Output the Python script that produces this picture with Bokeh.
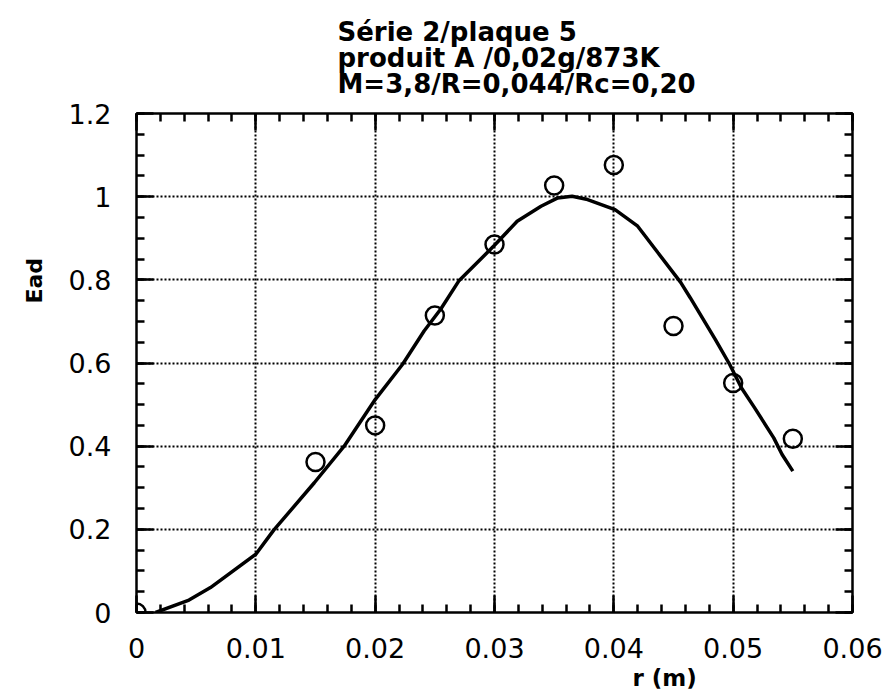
import numpy as np
from bokeh.plotting import figure
from bokeh.models import Range1d, LinearAxis, FixedTicker, Title
from bokeh.embed import file_html
from bokeh.resources import INLINE

# ---- data ----
r_points = [0.0, 0.015, 0.02, 0.025, 0.03, 0.035, 0.04, 0.045, 0.05, 0.055]
e_points = [0.0, 0.362, 0.45, 0.714, 0.885, 1.027, 1.076, 0.689, 0.552, 0.418]

r_curve = [0.0016, 0.0044, 0.0062, 0.0100, 0.0115, 0.0149, 0.0174, 0.0200, 0.0223,
           0.0241, 0.0255, 0.0270, 0.0300, 0.0319, 0.0339, 0.0353, 0.0365, 0.0378,
           0.0401, 0.0420, 0.0437, 0.0456, 0.0464, 0.0485, 0.0497, 0.0507, 0.0518,
           0.0534, 0.0541, 0.0550]
e_curve = [0.000, 0.030, 0.060, 0.140, 0.198, 0.312, 0.400, 0.512, 0.597,
           0.677, 0.730, 0.797, 0.883, 0.941, 0.977, 0.997, 1.001, 0.993,
           0.969, 0.929, 0.865, 0.794, 0.757, 0.657, 0.597, 0.540, 0.492,
           0.420, 0.380, 0.340]

x_ticks = [0.0, 0.01, 0.02, 0.03, 0.04, 0.05, 0.06]
x_tick_labels = ["0", "0.01", "0.02", "0.03", "0.04", "0.05", "0.06"]
y_ticks = [0.0, 0.2, 0.4, 0.6, 0.8, 1.0, 1.2]
y_tick_labels = ["0", "0.2", "0.4", "0.6", "0.8", "1", "1.2"]

title_lines = ["Série 2/plaque 5", "produit A /0,02g/873K", "M=3,8/R=0,044/Rc=0,20"]
x_label = "r (m)"
y_label = "Ead"

# ---- figure ----
W, H = 888, 698
p = figure(width=W, height=H, output_backend="svg", toolbar_location=None,
           x_range=Range1d(0, 0.06), y_range=Range1d(0, 1.2),
           min_border_left=136, min_border_right=36, min_border_top=113,
           min_border_bottom=86, background_fill_color="white",
           border_fill_color="white", outline_line_color="black",
           outline_line_width=2)
p.title.visible = False

x_minor = list(np.round(np.arange(0, 0.0601, 0.002), 4))
y_minor = list(np.round(np.arange(0, 1.2001, 0.05), 3))
xt = FixedTicker(ticks=x_ticks, minor_ticks=x_minor)
yt = FixedTicker(ticks=y_ticks, minor_ticks=y_minor)

def style_axis(ax, ticker, labels=None, show=True):
    ax.ticker = ticker
    ax.axis_line_color = "black"
    ax.axis_line_width = 2
    ax.major_tick_in = 17
    ax.major_tick_out = 0
    ax.minor_tick_in = 8
    ax.minor_tick_out = 0
    ax.major_tick_line_width = 2.5
    ax.minor_tick_line_width = 2.5
    ax.major_tick_line_color = "black"
    ax.minor_tick_line_color = "black"
    if show:
        ax.major_label_overrides = labels
        ax.major_label_text_font = "DejaVu Sans"
        ax.major_label_text_font_size = "27px"
        ax.major_label_text_color = "black"
    else:
        ax.major_label_text_font_size = "0px"
        ax.major_label_text_color = None
        ax.major_label_standoff = 0

style_axis(p.xaxis[0], xt, {t: l for t, l in zip(x_ticks, x_tick_labels)})
style_axis(p.yaxis[0], yt, {t: l for t, l in zip(y_ticks, y_tick_labels)})
p.xaxis[0].major_label_standoff = 25
p.yaxis[0].major_label_standoff = 25

top_ax = LinearAxis()
right_ax = LinearAxis()
style_axis(top_ax, xt, show=False)
style_axis(right_ax, yt, show=False)
p.add_layout(top_ax, "above")
p.add_layout(right_ax, "right")

p.xgrid.ticker = xt
p.ygrid.ticker = yt
for g in (p.xgrid[0], p.ygrid[0]):
    g.grid_line_color = "black"
    g.grid_line_width = 2
    g.grid_line_dash = "2 2"

# ---- marks ----
p.line(r_curve, e_curve, line_color="black", line_width=3.5)
p.scatter(r_points, e_points, marker="circle", size=18, fill_color=None,
          line_color="black", line_width=2.5)

# ---- texts ----
p.add_layout(Title(text="\n".join(title_lines), align="left", offset=201,
                   text_font="DejaVu Sans", text_font_style="bold",
                   text_font_size="26px", text_color="black",
                   text_line_height=0.86, standoff=29), "above")

p.add_layout(Title(text=x_label, align="left", offset=496,
                   text_font="DejaVu Sans", text_font_style="bold",
                   text_font_size="23px", text_color="black", standoff=5), "below")

p.add_layout(Title(text=y_label, align="left", offset=309,
                   text_font="DejaVu Sans", text_font_style="bold",
                   text_font_size="22px", text_color="black", standoff=38), "left")

open("out.html", "w").write(file_html(p, INLINE))
